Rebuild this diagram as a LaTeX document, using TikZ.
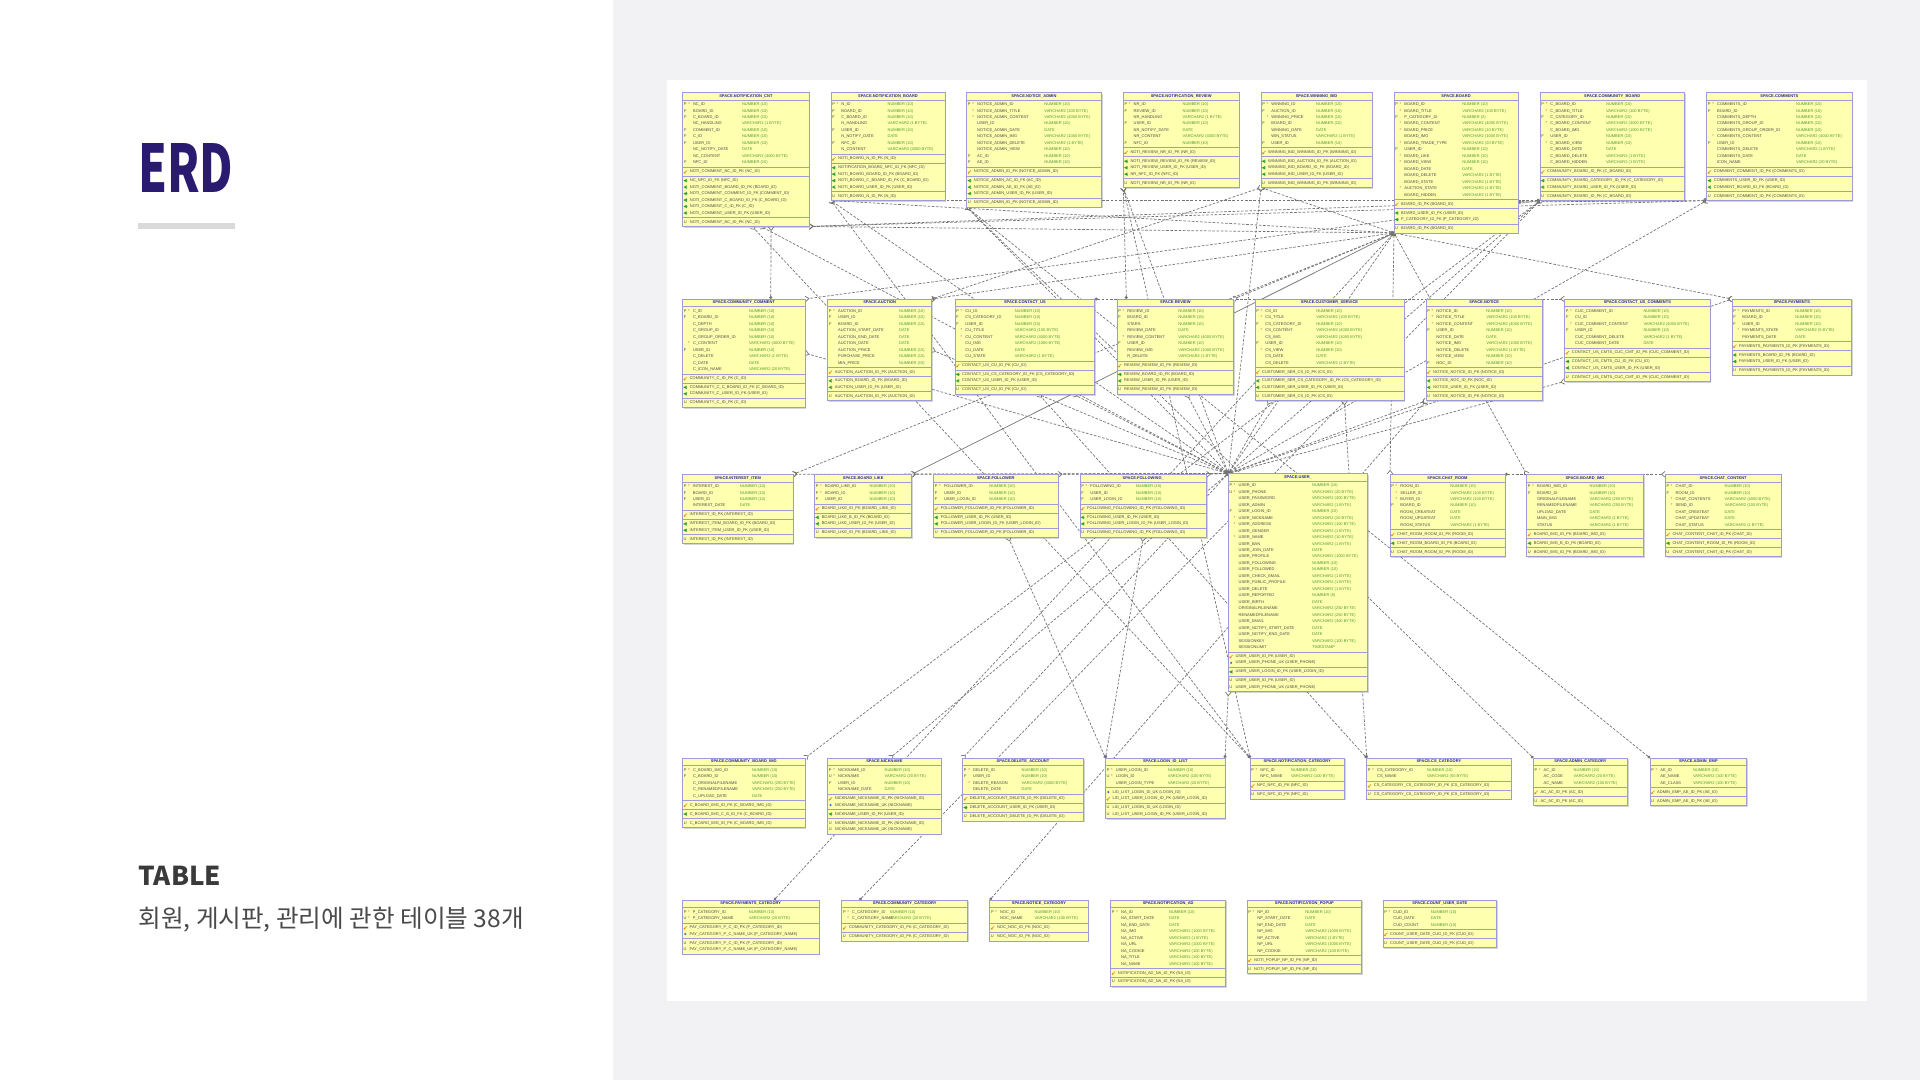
\documentclass[tikz,border=0pt]{standalone}
\usepackage{fontspec}
\setmainfont{Liberation Sans}
\newfontfamily\krfont{Noto Sans CJK KR}
\usepackage{graphicx}
\usetikzlibrary{arrows.meta,calc}
\pgfdeclarelayer{bg}
\pgfdeclarelayer{lines}
\pgfsetlayers{bg,lines,main}
\definecolor{tabfill}{HTML}{FFFFB0}
\definecolor{tabborder}{HTML}{9C9CD8}
\definecolor{titleblue}{HTML}{2424A8}
\definecolor{nametext}{HTML}{4A4A4A}
\definecolor{typegreen}{HTML}{4E9A2E}
\definecolor{starred}{HTML}{E03030}
\definecolor{keyorange}{HTML}{E8962A}
\definecolor{fkgreen}{HTML}{2E9E3E}
\definecolor{ukblue}{HTML}{2F6FD6}
\definecolor{relgray}{HTML}{747474}
\definecolor{rightbg}{HTML}{F2F2F4}
\definecolor{erdnavy}{HTML}{2A1A70}
\definecolor{bargray}{HTML}{DADADA}
\definecolor{tabletext}{HTML}{3A3A3A}
\definecolor{krtext}{HTML}{4A4A4A}
\definecolor{shadowgray}{HTML}{D4D4D4}
\tikzset{
  tabsec/.style={fill=tabfill,draw=tabborder,line width=0.35pt},
  ttl/.style={inner sep=0pt,font=\bfseries\fontsize{2}{2}\selectfont,text=titleblue,text height=1.45pt,text depth=0.35pt},
  cell/.style={inner sep=0pt,anchor=west,font=\fontsize{2}{2}\selectfont,text height=1.45pt,text depth=0.35pt},
  coltext/.style={cell,text=nametext},
  typetext/.style={cell,text=typegreen},
  flagtext/.style={cell,anchor=center,text=nametext},
  startext/.style={cell,anchor=center,text=starred},
  relline/.style={draw=relgray,line width=0.35pt,dash pattern=on 1.3pt off 0.8pt,
    {Circle[length=1.5pt]}-{Straight Barb[reversed,length=1.8pt,width=2.8pt]}},
}
\newcommand\erdrow{6.47}
\newcommand\erdpad{2.5}
\newcommand\erdtitle{7.7}
\newcommand\erdstart[6]{%
  \xdef\etid{#1}\xdef\etx{#2}\xdef\ety{#3}\xdef\etw{#4}\xdef\etoff{#5}%
  \filldraw[tabsec] (#2,#3) rectangle ++(#4,\erdtitle);
  \node[ttl] at (#2+#4/2,#3+\erdtitle/2) {#6};
  \xdef\etcur{\fpeval{#3+\erdtitle}}%
}
\newcommand\erdcols[1]{%
  \foreach[count=\ecnt] \eitem in {#1} {\xdef\etn{\ecnt}}%
  \pgfmathsetmacro\erdh{\etn*\erdrow+\erdpad}%
  \filldraw[tabsec] (\etx,\etcur) rectangle ++(\etw,\erdh);
  \foreach[count=\ecnt] \fflag/\fstar/\fname/\ftype in {#1} {%
    \pgfmathsetmacro\erdy{\etcur+\erdpad/2+(\ecnt-0.5)*\erdrow}%
    \if-\fflag\else\node[flagtext] at (\etx+2.6,\erdy) {\fflag};\fi
    \if-\fstar\else\node[startext] at (\etx+6.4,\erdy) {*};\fi
    \node[coltext] at (\etx+10,\erdy) {\fname};
    \node[typetext] at (\etx+\etoff,\erdy) {\ftype};
  }%
  \xdef\etcur{\fpeval{\etcur+\erdh}}%
}
\newcommand\erdiconk[2]{\draw[keyorange,line width=0.35pt] (#1+1.8,#2+1.2) -- (#1+4.4,#2-1.4); \fill[keyorange] (#1+1.9,#2+1.1) circle (1.1);}
\newcommand\erdiconf[2]{\draw[fkgreen,line width=0.35pt] (#1+4.2,#2-1.4) -- (#1+1.4,#2) -- (#1+4.2,#2+1.4) (#1+1.4,#2) -- (#1+4.6,#2);}
\newcommand\erdicond[2]{\fill[ukblue] (#1+2.8,#2) circle (1.2);}
\newcommand\erdiconu[2]{\node[flagtext] at (#1+2.6,#2) {U};}
\newcommand\erdkeys[1]{%
  \foreach[count=\ecnt] \eitem in {#1} {\xdef\etn{\ecnt}}%
  \pgfmathsetmacro\erdh{\etn*\erdrow+\erdpad}%
  \filldraw[tabsec] (\etx,\etcur) rectangle ++(\etw,\erdh);
  \foreach[count=\ecnt] \fic/\ftxt in {#1} {%
    \pgfmathsetmacro\erdy{\etcur+\erdpad/2+(\ecnt-0.5)*\erdrow}%
    \csname erdicon\fic\endcsname{\etx}{\erdy}%
    \node[coltext] at (\etx+6.8,\erdy) {\ftxt};
  }%
  \xdef\etcur{\fpeval{\etcur+\erdh}}%
}
\newcommand\erdend{%
  \pgfmathsetmacro\ewpt{\etw*0.5}%
  \pgfmathsetmacro\ehpt{(\etcur-\ety)*0.5}%
  \node[inner sep=0pt,outer sep=0pt,minimum width=\ewpt pt,minimum height=\ehpt pt,anchor=north west] (\etid) at (\etx,\ety) {};
  \begin{pgfonlayer}{lines}\fill[shadowgray] (\etx+1.3,\ety+1.3) rectangle (\etx+\etw+1.3,\etcur+1.3);\end{pgfonlayer}
}
\newcommand\erdrel[3][]{\draw[relline,#1] (#2) -- (#3);}
\begin{document}
\catcode`\_=12
\begin{tikzpicture}[x=0.5pt,y=-0.5pt]
\useasboundingbox (0,0) rectangle (1920,1080);
\begin{pgfonlayer}{bg}
\fill[white] (0,0) rectangle (1920,1080);
\fill[rightbg] (613,0) rectangle (1920,1080);
\fill[white] (667,80) rectangle (1867,1001);
\end{pgfonlayer}
% left panel
\node[anchor=north west,inner sep=0pt,text=erdnavy] (erd) at (138,143) {\resizebox{47.5pt}{24.5pt}{\krfont\bfseries ERD}};
\fill[bargray] (138,223) rectangle (235,229);
\node[anchor=base west,inner sep=0pt,text=tabletext,font=\krfont\bfseries\fontsize{13}{13}\selectfont] (tabttl) at (138,885) {TABLE};
\node[anchor=base west,inner sep=0pt,text=krtext,font=\krfont\fontsize{12.3}{12.3}\selectfont] (tabdesc) at (138,927) {회원, 게시판, 관리에 관한 테이블 38개};
% ---------------- row 1
\erdstart{cnt}{682.7}{92.3}{126.3}{59}{SPACE.NOTIFICATION_CNT}
\erdcols{P/*/NC_ID/NUMBER (10), F/-/BOARD_ID/NUMBER (10), F/-/C_BOARD_ID/NUMBER (10), -/-/NC_HANDLING/VARCHAR2 (1 BYTE), F/-/COMMENT_ID/NUMBER (10), F/-/C_ID/NUMBER (10), F/-/USER_ID/NUMBER (10), -/-/NC_NOTIFY_DATE/DATE, -/-/NC_CONTENT/VARCHAR2 (4000 BYTE), F/-/NFC_ID/NUMBER (10)}
\erdkeys{k/NOTI_COMMENT_NC_ID_PK (NC_ID)}
\erdkeys{f/NC_NFC_ID_FK (NFC_ID), f/NOTI_COMMENT_BOARD_ID_FK (BOARD_ID), f/NOTI_COMMENT_COMMENT_ID_FK (COMMENT_ID), f/NOTI_COMMENT_C_BOARD_ID_FK (C_BOARD_ID), f/NOTI_COMMENT_C_ID_FK (C_ID), f/NOTI_COMMENT_USER_ID_FK (USER_ID)}
\erdkeys{u/NOTI_COMMENT_NC_ID_PK (NC_ID)}
\erdend
\erdstart{nb}{831}{92.3}{114}{56.3}{SPACE.NOTIFICATION_BOARD}
\erdcols{P/*/N_ID/NUMBER (10), F/-/BOARD_ID/NUMBER (10), F/-/C_BOARD_ID/NUMBER (10), -/-/N_HANDLING/VARCHAR2 (1 BYTE), F/-/USER_ID/NUMBER (10), -/-/N_NOTIFY_DATE/DATE, F/-/NFC_ID/NUMBER (10), -/-/N_CONTENT/VARCHAR2 (4000 BYTE)}
\erdkeys{k/NOTI_BOARD_N_ID_PK (N_ID)}
\erdkeys{f/NOTIFICATION_BOARD_NFC_ID_FK (NFC_ID), f/NOTI_BOARD_BOARD_ID_FK (BOARD_ID), f/NOTI_BOARD_C_BOARD_ID_FK (C_BOARD_ID), f/NOTI_BOARD_USER_ID_FK (USER_ID)}
\erdkeys{u/NOTI_BOARD_N_ID_PK (N_ID)}
\erdend
\erdstart{na}{966.7}{92.3}{134.5}{77.3}{SPACE.NOTICE_ADMIN}
\erdcols{P/*/NOTICE_ADMIN_ID/NUMBER (10), -/*/NOTICE_ADMIN_TITLE/VARCHAR2 (100 BYTE), -/*/NOTICE_ADMIN_CONTENT/VARCHAR2 (4000 BYTE), -/-/USER_ID/NUMBER (10), -/-/NOTICE_ADMIN_DATE/DATE, -/-/NOTICE_ADMIN_IMG/VARCHAR2 (1000 BYTE), -/-/NOTICE_ADMIN_DELETE/VARCHAR2 (1 BYTE), -/-/NOTICE_ADMIN_VIEW/NUMBER (10), F/-/AC_ID/NUMBER (10), F/-/AE_ID/NUMBER (10)}
\erdkeys{k/NOTICE_ADMIN_ID_PK (NOTICE_ADMIN_ID)}
\erdkeys{f/NOTICE_ADMIN_AC_ID_FK (AC_ID), f/NOTICE_ADMIN_AE_ID_FK (AE_ID), f/NOTICE_ADMIN_USER_ID_FK (USER_ID)}
\erdkeys{u/NOTICE_ADMIN_ID_PK (NOTICE_ADMIN_ID)}
\erdend
\erdstart{nr}{1123.3}{92.3}{115.7}{59}{SPACE.NOTIFICATION_REVIEW}
\erdcols{P/*/NR_ID/NUMBER (10), F/-/REVIEW_ID/NUMBER (10), -/-/NR_HANDLING/VARCHAR2 (1 BYTE), F/-/USER_ID/NUMBER (10), -/-/NR_NOTIFY_DATE/DATE, -/-/NR_CONTENT/VARCHAR2 (4000 BYTE), F/-/NFC_ID/NUMBER (10)}
\erdkeys{k/NOTI_REVIEW_NR_ID_PK (NR_ID)}
\erdkeys{f/NOTI_REVIEW_REVIEW_ID_FK (REVIEW_ID), f/NOTI_REVIEW_USER_ID_FK (USER_ID), f/NR_NFC_ID_FK (NFC_ID)}
\erdkeys{u/NOTI_REVIEW_NR_ID_PK (NR_ID)}
\erdend
\erdstart{wb}{1261}{92.3}{111}{54.7}{SPACE.WINNING_BID}
\erdcols{P/*/WINNING_ID/NUMBER (10), F/-/AUCTION_ID/NUMBER (10), -/*/WINNING_PRICE/NUMBER (10), F/-/BOARD_ID/NUMBER (10), -/-/WINNING_DATE/DATE, -/-/WIN_STATUS/VARCHAR2 (1 BYTE), F/-/USER_ID/NUMBER (10)}
\erdkeys{k/WINNING_BID_WINNING_ID_PK (WINNING_ID)}
\erdkeys{f/WINNING_BID_AUCTION_ID_FK (AUCTION_ID), f/WINNING_BID_BOARD_ID_FK (BOARD_ID), f/WINNING_BID_USER_ID_FK (USER_ID)}
\erdkeys{u/WINNING_BID_WINNING_ID_PK (WINNING_ID)}
\erdend
\erdstart{board}{1394}{92.3}{124}{68}{SPACE.BOARD}
\erdcols{P/*/BOARD_ID/NUMBER (10), -/*/BOARD_TITLE/VARCHAR2 (100 BYTE), F/-/P_CATEGORY_ID/NUMBER (2), -/*/BOARD_CONTENT/VARCHAR2 (4000 BYTE), -/*/BOARD_PRICE/VARCHAR2 (10 BYTE), -/-/BOARD_IMG/VARCHAR2 (1000 BYTE), -/*/BOARD_TRADE_TYPE/VARCHAR2 (20 BYTE), F/-/USER_ID/NUMBER (10), -/*/BOARD_LIKE/NUMBER (10), -/*/BOARD_VIEW/NUMBER (10), -/-/BOARD_DATE/DATE, -/-/BOARD_DELETE/VARCHAR2 (1 BYTE), -/-/BOARD_STATE/VARCHAR2 (1 BYTE), -/*/AUCTION_STATE/VARCHAR2 (1 BYTE), -/-/BOARD_HIDDEN/VARCHAR2 (1 BYTE)}
\erdkeys{k/BOARD_ID_PK (BOARD_ID)}
\erdkeys{f/BOARD_USER_ID_FK (USER_ID), f/P_CATEGORY_ID_FK (P_CATEGORY_ID)}
\erdkeys{u/BOARD_ID_PK (BOARD_ID)}
\erdend
\erdstart{cb}{1540}{92.3}{144.3}{65.7}{SPACE.COMMUNITY_BOARD}
\erdcols{P/*/C_BOARD_ID/NUMBER (10), -/*/C_BOARD_TITLE/VARCHAR2 (100 BYTE), F/-/C_CATEGORY_ID/NUMBER (10), -/*/C_BOARD_CONTENT/VARCHAR2 (4000 BYTE), -/-/C_BOARD_IMG/VARCHAR2 (1000 BYTE), F/-/USER_ID/NUMBER (10), -/*/C_BOARD_VIEW/NUMBER (10), -/-/C_BOARD_DATE/DATE, -/-/C_BOARD_DELETE/VARCHAR2 (1 BYTE), -/-/C_BOARD_HIDDEN/VARCHAR2 (1 BYTE)}
\erdkeys{k/COMMUNITY_BOARD_ID_PK (C_BOARD_ID)}
\erdkeys{f/COMMUNITY_BOARD_CATEGORY_ID_FK (C_CATEGORY_ID), f/COMMUNITY_BOARD_USER_ID_FK (USER_ID)}
\erdkeys{u/COMMUNITY_BOARD_ID_PK (C_BOARD_ID)}
\erdend
\erdstart{comments}{1706.7}{92.3}{145.3}{89}{SPACE.COMMENTS}
\erdcols{P/*/COMMENTS_ID/NUMBER (10), F/-/BOARD_ID/NUMBER (10), -/-/COMMENTS_DEPTH/NUMBER (10), -/-/COMMENTS_GROUP_ID/NUMBER (10), -/-/COMMENTS_GROUP_ORDER_ID/NUMBER (10), -/*/COMMENTS_CONTENT/VARCHAR2 (4000 BYTE), F/-/USER_ID/NUMBER (10), -/-/COMMENTS_DELETE/VARCHAR2 (1 BYTE), -/-/COMMENTS_DATE/DATE, -/-/ICON_NAME/VARCHAR2 (20 BYTE)}
\erdkeys{k/COMMENT_COMMENT_ID_PK (COMMENTS_ID)}
\erdkeys{f/COMMENTS_USER_ID_FK (USER_ID), f/COMMENT_BOARD_ID_FK (BOARD_ID)}
\erdkeys{u/COMMENT_COMMENT_ID_PK (COMMENTS_ID)}
\erdend
% ---------------- row 2
\erdstart{cc}{682.6}{299}{122.4}{66}{SPACE.COMMUNITY_COMMENT}
\erdcols{P/*/C_ID/NUMBER (10), F/-/C_BOARD_ID/NUMBER (10), -/-/C_DEPTH/NUMBER (10), -/-/C_GROUP_ID/NUMBER (10), -/-/C_GROUP_ORDER_ID/NUMBER (10), -/*/C_CONTENT/VARCHAR2 (4000 BYTE), F/-/USER_ID/NUMBER (10), -/-/C_DELETE/VARCHAR2 (1 BYTE), -/-/C_DATE/DATE, -/-/C_ICON_NAME/VARCHAR2 (20 BYTE)}
\erdkeys{k/COMMUNITY_C_ID_PK (C_ID)}
\erdkeys{f/COMMUNITY_C_C_BOARD_ID_FK (C_BOARD_ID), f/COMMUNITY_C_USER_ID_FK (USER_ID)}
\erdkeys{u/COMMUNITY_C_ID_PK (C_ID)}
\erdend
\erdstart{auction}{827.7}{299}{104}{71}{SPACE.AUCTION}
\erdcols{P/*/AUCTION_ID/NUMBER (10), F/-/USER_ID/NUMBER (10), F/-/BOARD_ID/NUMBER (10), -/-/AUCTION_START_DATE/DATE, -/-/AUCTION_END_DATE/DATE, -/-/AUCTION_DATE/DATE, -/-/AUCTION_PRICE/NUMBER (10), -/-/PURCHASE_PRICE/NUMBER (10), -/-/MIN_PRICE/NUMBER (10)}
\erdkeys{k/AUCTION_AUCTION_ID_PK (AUCTION_ID)}
\erdkeys{f/AUCTION_BOARD_ID_FK (BOARD_ID), f/AUCTION_USER_ID_FK (USER_ID)}
\erdkeys{u/AUCTION_AUCTION_ID_PK (AUCTION_ID)}
\erdend
\erdstart{cu}{955}{299}{139.7}{59.4}{SPACE.CONTACT_US}
\erdcols{P/*/CU_ID/NUMBER (10), F/-/CS_CATEGORY_ID/NUMBER (10), F/-/USER_ID/NUMBER (10), -/*/CU_TITLE/VARCHAR2 (100 BYTE), -/*/CU_CONTENT/VARCHAR2 (4000 BYTE), -/-/CU_IMG/VARCHAR2 (1000 BYTE), -/-/CU_DATE/DATE, -/-/CU_STATE/VARCHAR2 (1 BYTE)}
\erdkeys{k/CONTACT_US_CU_ID_PK (CU_ID)}
\erdkeys{f/CONTACT_US_CS_CATEGORY_ID_FK (CS_CATEGORY_ID), f/CONTACT_US_USER_ID_FK (USER_ID)}
\erdkeys{u/CONTACT_US_CU_ID_PK (CU_ID)}
\erdend
\erdstart{review}{1117}{299}{116.7}{61}{SPACE.REVIEW}
\erdcols{P/*/REVIEW_ID/NUMBER (10), F/-/BOARD_ID/NUMBER (10), -/-/STARS/NUMBER (10), -/-/REVIEW_DATE/DATE, -/*/REVIEW_CONTENT/VARCHAR2 (4000 BYTE), F/-/USER_ID/NUMBER (10), -/-/REVIEW_IMG/VARCHAR2 (1000 BYTE), -/-/R_DELETE/VARCHAR2 (1 BYTE)}
\erdkeys{k/REVIEW_REVIEW_ID_PK (REVIEW_ID)}
\erdkeys{f/REVIEW_BOARD_ID_FK (BOARD_ID), f/REVIEW_USER_ID_FK (USER_ID)}
\erdkeys{u/REVIEW_REVIEW_ID_PK (REVIEW_ID)}
\erdend
\erdstart{cs}{1255}{299}{149}{61}{SPACE.CUSTOMER_SERVICE}
\erdcols{P/*/CS_ID/NUMBER (10), -/*/CS_TITLE/VARCHAR2 (100 BYTE), F/-/CS_CATEGORY_ID/NUMBER (10), -/*/CS_CONTENT/VARCHAR2 (4000 BYTE), -/-/CS_IMG/VARCHAR2 (1000 BYTE), F/-/USER_ID/NUMBER (10), -/*/CS_VIEW/NUMBER (10), -/-/CS_DATE/DATE, -/-/CS_DELETE/VARCHAR2 (1 BYTE)}
\erdkeys{k/CUSTOMER_SER_CS_ID_PK (CS_ID)}
\erdkeys{f/CUSTOMER_SER_CS_CATEGORY_ID_FK (CS_CATEGORY_ID), f/CUSTOMER_SER_USER_ID_FK (USER_ID)}
\erdkeys{u/CUSTOMER_SER_CS_ID_PK (CS_ID)}
\erdend
\erdstart{notice}{1426}{299}{116.5}{60}{SPACE.NOTICE}
\erdcols{P/*/NOTICE_ID/NUMBER (10), -/*/NOTICE_TITLE/VARCHAR2 (100 BYTE), -/*/NOTICE_CONTENT/VARCHAR2 (4000 BYTE), F/-/USER_ID/NUMBER (10), -/-/NOTICE_DATE/DATE, -/-/NOTICE_IMG/VARCHAR2 (1000 BYTE), -/-/NOTICE_DELETE/VARCHAR2 (1 BYTE), -/-/NOTICE_VIEW/NUMBER (10), F/-/NOC_ID/NUMBER (10)}
\erdkeys{k/NOTICE_NOTICE_ID_PK (NOTICE_ID)}
\erdkeys{f/NOTICE_NOC_ID_FK (NOC_ID), f/NOTICE_USER_ID_FK (USER_ID)}
\erdkeys{u/NOTICE_NOTICE_ID_PK (NOTICE_ID)}
\erdend
\erdstart{cuc}{1564.7}{299}{145.3}{78.4}{SPACE.CONTACT_US_COMMENTS}
\erdcols{P/*/CUC_COMMENT_ID/NUMBER (10), F/-/CU_ID/NUMBER (10), -/*/CUC_COMMENT_CONTENT/VARCHAR2 (4000 BYTE), F/-/USER_ID/NUMBER (10), -/-/CUC_COMMENT_DELETE/VARCHAR2 (1 BYTE), -/-/CUC_COMMENT_DATE/DATE}
\erdkeys{k/CONTACT_US_CMTS_CUC_CMT_ID_PK (CUC_COMMENT_ID)}
\erdkeys{f/CONTACT_US_CMTS_CU_ID_FK (CU_ID), f/CONTACT_US_CMTS_USER_ID_FK (USER_ID)}
\erdkeys{u/CONTACT_US_CMTS_CUC_CMT_ID_PK (CUC_COMMENT_ID)}
\erdend
\erdstart{payments}{1732}{299}{119.7}{63}{SPACE.PAYMENTS}
\erdcols{P/*/PAYMENTS_ID/NUMBER (10), F/-/BOARD_ID/NUMBER (10), F/-/USER_ID/NUMBER (10), -/*/PAYMENTS_STATE/VARCHAR2 (5 BYTE), -/-/PAYMENTS_DATE/DATE}
\erdkeys{k/PAYMENTS_PAYMENTS_ID_PK (PAYMENTS_ID)}
\erdkeys{f/PAYMENTS_BOARD_ID_FK (BOARD_ID), f/PAYMENTS_USER_ID_FK (USER_ID)}
\erdkeys{u/PAYMENTS_PAYMENTS_ID_PK (PAYMENTS_ID)}
\erdend
% ---------------- row 3
\erdstart{interest}{682.5}{474.3}{110.5}{57}{SPACE.INTEREST_ITEM}
\erdcols{P/*/INTEREST_ID/NUMBER (10), F/-/BOARD_ID/NUMBER (10), F/-/USER_ID/NUMBER (10), -/-/INTEREST_DATE/DATE}
\erdkeys{k/INTEREST_ID_PK (INTEREST_ID)}
\erdkeys{f/INTEREST_ITEM_BOARD_ID_FK (BOARD_ID), f/INTEREST_ITEM_USER_ID_FK (USER_ID)}
\erdkeys{u/INTEREST_ID_PK (INTEREST_ID)}
\erdend
\erdstart{blike}{814.6}{474.3}{97.2}{54.7}{SPACE.BOARD_LIKE}
\erdcols{P/*/BOARD_LIKE_ID/NUMBER (10), F/*/BOARD_ID/NUMBER (10), F/-/USER_ID/NUMBER (10)}
\erdkeys{k/BOARD_LIKE_ID_PK (BOARD_LIKE_ID)}
\erdkeys{f/BOARD_LIKE_B_ID_FK (BOARD_ID), f/BOARD_LIKE_USER_ID_FK (USER_ID)}
\erdkeys{u/BOARD_LIKE_ID_PK (BOARD_LIKE_ID)}
\erdend
\erdstart{follower}{933.6}{474.3}{124.4}{55.4}{SPACE.FOLLOWER}
\erdcols{P/*/FOLLOWER_ID/NUMBER (10), F/-/USER_ID/NUMBER (10), F/-/USER_LOGIN_ID/NUMBER (10)}
\erdkeys{k/FOLLOWER_FOLLOWER_ID_PK (FOLLOWER_ID)}
\erdkeys{f/FOLLOWER_USER_ID_FK (USER_ID), f/FOLLOWER_USER_LOGIN_ID_FK (USER_LOGIN_ID)}
\erdkeys{u/FOLLOWER_FOLLOWER_ID_PK (FOLLOWER_ID)}
\erdend
\erdstart{following}{1080}{474.3}{126.4}{55.4}{SPACE.FOLLOWING_}
\erdcols{P/*/FOLLOWING_ID/NUMBER (10), F/-/USER_ID/NUMBER (10), F/-/USER_LOGIN_ID/NUMBER (10)}
\erdkeys{k/FOLLOWING_FOLLOWING_ID_PK (FOLLOWING_ID)}
\erdkeys{f/FOLLOWING_USER_ID_FK (USER_ID), f/FOLLOWING_USER_LOGIN_ID_FK (USER_LOGIN_ID)}
\erdkeys{u/FOLLOWING_FOLLOWING_ID_PK (FOLLOWING_ID)}
\erdend
\erdstart{user}{1228.3}{473.5}{139.4}{83.4}{SPACE.USER_}
\erdcols{P/*/USER_ID/NUMBER (10), U/*/USER_PHONE/VARCHAR2 (20 BYTE), -/-/USER_PASSWORD/VARCHAR2 (300 BYTE), -/-/USER_ADMIN/VARCHAR2 (1 BYTE), F/-/USER_LOGIN_ID/NUMBER (10), -/*/USER_NICKNAME/VARCHAR2 (20 BYTE), -/*/USER_ADDRESS/VARCHAR2 (100 BYTE), -/-/USER_GENDER/VARCHAR2 (1 BYTE), -/*/USER_NAME/VARCHAR2 (10 BYTE), -/-/USER_BAN/VARCHAR2 (1 BYTE), -/-/USER_JOIN_DATE/DATE, -/-/USER_PROFILE/VARCHAR2 (1000 BYTE), -/-/USER_FOLLOWING/NUMBER (10), -/-/USER_FOLLOWED/NUMBER (10), -/-/USER_CHECK_EMAIL/VARCHAR2 (1 BYTE), -/-/USER_PUBLIC_PROFILE/VARCHAR2 (1 BYTE), -/-/USER_DELETE/VARCHAR2 (1 BYTE), -/-/USER_REPORTED/NUMBER (5), -/-/USER_BIRTH/DATE, -/-/ORIGINALFILENAME/VARCHAR2 (250 BYTE), -/-/RENAMEDFILENAME/VARCHAR2 (250 BYTE), -/-/USER_EMAIL/VARCHAR2 (300 BYTE), -/-/USER_NOTIFY_START_DATE/DATE, -/-/USER_NOTIFY_END_DATE/DATE, -/-/SESSIONKEY/VARCHAR2 (100 BYTE), -/-/SESSIONLIMIT/TIMESTAMP}
\erdkeys{k/USER_USER_ID_PK (USER_ID), d/USER_USER_PHONE_UK (USER_PHONE)}
\erdkeys{f/USER_USER_LOGIN_ID_FK (USER_LOGIN_ID)}
\erdkeys{u/USER_USER_ID_PK (USER_ID), u/USER_USER_PHONE_UK (USER_PHONE)}
\erdend
\erdstart{chatroom}{1390}{474.3}{115}{60}{SPACE.CHAT_ROOM}
\erdcols{P/*/ROOM_ID/NUMBER (10), -/*/SELLER_ID/VARCHAR2 (100 BYTE), -/*/BUYER_ID/VARCHAR2 (100 BYTE), F/-/BOARD_ID/NUMBER (10), -/-/ROOM_CREATEAT/DATE, -/-/ROOM_UPDATEAT/DATE, -/-/ROOM_STATUS/VARCHAR2 (1 BYTE)}
\erdkeys{k/CHAT_ROOM_ROOM_ID_PK (ROOM_ID)}
\erdkeys{f/CHAT_ROOM_BOARD_ID_FK (BOARD_ID)}
\erdkeys{u/CHAT_ROOM_ROOM_ID_PK (ROOM_ID)}
\erdend
\erdstart{boardimg}{1526.7}{474.3}{116.6}{62.6}{SPACE.BOARD_IMG}
\erdcols{P/*/BOARD_IMG_ID/NUMBER (10), F/-/BOARD_ID/NUMBER (10), -/-/ORIGINALFILENAME/VARCHAR2 (250 BYTE), -/-/RENAMEDFILENAME/VARCHAR2 (250 BYTE), -/-/UPLOAD_DATE/DATE, -/-/MAIN_IMG/VARCHAR2 (1 BYTE), -/-/STATUS/VARCHAR2 (1 BYTE)}
\erdkeys{k/BOARD_IMG_ID_PK (BOARD_IMG_ID)}
\erdkeys{f/BOARD_IMG_B_ID_FK (BOARD_ID)}
\erdkeys{u/BOARD_IMG_ID_PK (BOARD_IMG_ID)}
\erdend
\erdstart{chatcontent}{1665.3}{474.3}{115.7}{59}{SPACE.CHAT_CONTENT}
\erdcols{P/*/CHAT_ID/NUMBER (10), F/-/ROOM_ID/NUMBER (10), -/*/CHAT_CONTENTS/VARCHAR2 (4000 BYTE), -/*/SEND_ID/VARCHAR2 (100 BYTE), -/-/CHAT_CREATEAT/DATE, -/-/CHAT_UPDATEAT/DATE, -/-/CHAT_STATUS/VARCHAR2 (1 BYTE)}
\erdkeys{k/CHAT_CONTENT_CHAT_ID_PK (CHAT_ID)}
\erdkeys{f/CHAT_CONTENT_ROOM_ID_FK (ROOM_ID)}
\erdkeys{u/CHAT_CONTENT_CHAT_ID_PK (CHAT_ID)}
\erdend
% ---------------- row 4
\erdstart{cbimg}{682.6}{758}{122.4}{69}{SPACE.COMMUNITY_BOARD_IMG}
\erdcols{P/*/C_BOARD_IMG_ID/NUMBER (10), F/-/C_BOARD_ID/NUMBER (10), -/-/C_ORIGINALFILENAME/VARCHAR2 (250 BYTE), -/-/C_RENAMEDFILENAME/VARCHAR2 (250 BYTE), -/-/C_UPLOAD_DATE/DATE}
\erdkeys{k/C_BOARD_IMG_ID_PK (C_BOARD_IMG_ID)}
\erdkeys{f/C_BOARD_IMG_C_B_ID_FK (C_BOARD_ID)}
\erdkeys{u/C_BOARD_IMG_ID_PK (C_BOARD_IMG_ID)}
\erdend
\erdstart{nickname}{827.7}{758}{113.3}{56.6}{SPACE.NICKNAME}
\erdcols{P/*/NICKNAME_ID/NUMBER (10), U/*/NICKNAME/VARCHAR2 (20 BYTE), F/-/USER_ID/NUMBER (10), -/-/NICKNAME_DATE/DATE}
\erdkeys{k/NICKNAME_NICKNAME_ID_PK (NICKNAME_ID), d/NICKNAME_NICKNAME_UK (NICKNAME)}
\erdkeys{f/NICKNAME_USER_ID_FK (USER_ID)}
\erdkeys{u/NICKNAME_NICKNAME_ID_PK (NICKNAME_ID), u/NICKNAME_NICKNAME_UK (NICKNAME)}
\erdend
\erdstart{delacc}{962.7}{758}{120.6}{58.6}{SPACE.DELETE_ACCOUNT}
\erdcols{P/*/DELETE_ID/NUMBER (10), F/-/USER_ID/NUMBER (10), -/*/DELETE_REASON/VARCHAR2 (4000 BYTE), -/-/DELETE_DATE/DATE}
\erdkeys{k/DELETE_ACCOUNT_DELETE_ID_PK (DELETE_ID)}
\erdkeys{f/DELETE_ACCOUNT_USER_ID_FK (USER_ID)}
\erdkeys{u/DELETE_ACCOUNT_DELETE_ID_PK (DELETE_ID)}
\erdend
\erdstart{loginlist}{1105.5}{758}{119.5}{62}{SPACE.LOGIN_ID_LIST}
\erdcols{P/*/USER_LOGIN_ID/NUMBER (10), U/*/LOGIN_ID/VARCHAR2 (100 BYTE), -/-/USER_LOGIN_TYPE/VARCHAR2 (20 BYTE)}
\erdkeys{d/LID_LIST_LOGIN_ID_UK (LOGIN_ID), k/LID_LIST_USER_LOGIN_ID_PK (USER_LOGIN_ID)}
\erdkeys{u/LID_LIST_LOGIN_ID_UK (LOGIN_ID), u/LID_LIST_USER_LOGIN_ID_PK (USER_LOGIN_ID)}
\erdend
\erdstart{nfc}{1250}{758}{94.5}{40.7}{SPACE.NOTIFICATION_CATEGORY}
\erdcols{P/*/NFC_ID/NUMBER (10), -/-/NFC_NAME/VARCHAR2 (100 BYTE)}
\erdkeys{k/NFC_NFC_ID_PK (NFC_ID)}
\erdkeys{u/NFC_NFC_ID_PK (NFC_ID)}
\erdend
\erdstart{cscat}{1366.7}{758}{144.3}{60}{SPACE.CS_CATEGORY}
\erdcols{P/*/CS_CATEGORY_ID/NUMBER (10), -/-/CS_NAME/VARCHAR2 (50 BYTE)}
\erdkeys{k/CS_CATEGORY_CS_CATEGORY_ID_PK (CS_CATEGORY_ID)}
\erdkeys{u/CS_CATEGORY_CS_CATEGORY_ID_PK (CS_CATEGORY_ID)}
\erdend
\erdstart{admincat}{1533.3}{758}{94.4}{40}{SPACE.ADMIN_CATEGORY}
\erdcols{P/*/AC_ID/NUMBER (10), -/-/AC_CODE/VARCHAR2 (20 BYTE), -/-/AC_NAME/VARCHAR2 (100 BYTE)}
\erdkeys{k/AC_AC_ID_PK (AC_ID)}
\erdkeys{u/AC_AC_ID_PK (AC_ID)}
\erdend
\erdstart{adminemp}{1650}{758}{96.7}{42.7}{SPACE.ADMIN_EMP}
\erdcols{P/*/AE_ID/NUMBER (10), -/-/AE_NAME/VARCHAR2 (100 BYTE), -/-/AE_CLASS/VARCHAR2 (100 BYTE)}
\erdkeys{k/ADMIN_EMP_AE_ID_PK (AE_ID)}
\erdkeys{u/ADMIN_EMP_AE_ID_PK (AE_ID)}
\erdend
% ---------------- row 5
\erdstart{paycat}{682.5}{900}{136.5}{66}{SPACE.PAYMENTS_CATEGORY}
\erdcols{P/*/P_CATEGORY_ID/NUMBER (10), U/*/P_CATEGORY_NAME/VARCHAR2 (20 BYTE)}
\erdkeys{k/PAY_CATEGORY_P_C_ID_PK (P_CATEGORY_ID), d/PAY_CATEGORY_P_C_NAME_UK (P_CATEGORY_NAME)}
\erdkeys{u/PAY_CATEGORY_P_C_ID_PK (P_CATEGORY_ID), u/PAY_CATEGORY_P_C_NAME_UK (P_CATEGORY_NAME)}
\erdend
\erdstart{ccat}{841.8}{900}{125.8}{47.7}{SPACE.COMMUNITY_CATEGORY}
\erdcols{P/*/C_CATEGORY_ID/NUMBER (10), -/*/C_CATEGORY_NAME/VARCHAR2 (20 BYTE)}
\erdkeys{k/COMMUNITY_CATEGORY_ID_PK (C_CATEGORY_ID)}
\erdkeys{u/COMMUNITY_CATEGORY_ID_PK (C_CATEGORY_ID)}
\erdend
\erdstart{noc}{989.8}{900}{98.2}{44.4}{SPACE.NOTICE_CATEGORY}
\erdcols{P/*/NOC_ID/NUMBER (10), -/-/NOC_NAME/VARCHAR2 (100 BYTE)}
\erdkeys{k/NOC_NOC_ID_PK (NOC_ID)}
\erdkeys{u/NOC_NOC_ID_PK (NOC_ID)}
\erdend
\erdstart{nad}{1110.7}{900}{114.9}{58}{SPACE.NOTIFICATION_AD}
\erdcols{P/*/NA_ID/NUMBER (10), -/-/NA_START_DATE/DATE, -/-/NA_END_DATE/DATE, -/-/NA_IMG/VARCHAR2 (1000 BYTE), -/-/NA_ACTIVE/VARCHAR2 (1 BYTE), -/-/NA_URL/VARCHAR2 (1000 BYTE), -/-/NA_COOKIE/VARCHAR2 (100 BYTE), -/-/NA_TITLE/VARCHAR2 (100 BYTE), -/-/NA_NAME/VARCHAR2 (100 BYTE)}
\erdkeys{k/NOTIFICATION_AD_NA_ID_PK (NA_ID)}
\erdkeys{u/NOTIFICATION_AD_NA_ID_PK (NA_ID)}
\erdend
\erdstart{npop}{1247}{900}{114.6}{58}{SPACE.NOTIFICATION_POPUP}
\erdcols{P/*/NP_ID/NUMBER (10), -/-/NP_START_DATE/DATE, -/-/NP_END_DATE/DATE, -/-/NP_IMG/VARCHAR2 (1000 BYTE), -/-/NP_ACTIVE/VARCHAR2 (1 BYTE), -/-/NP_URL/VARCHAR2 (1000 BYTE), -/-/NP_COOKIE/VARCHAR2 (100 BYTE)}
\erdkeys{k/NOTI_POPUP_NP_ID_PK (NP_ID)}
\erdkeys{u/NOTI_POPUP_NP_ID_PK (NP_ID)}
\erdend
\erdstart{cud}{1383}{900}{113.6}{47.4}{SPACE.COUNT_USER_DATE}
\erdcols{P/*/CUD_ID/NUMBER (10), -/-/CUD_DATE/DATE, -/-/CUD_COUNT/NUMBER (10)}
\erdkeys{k/COUNT_USER_DATE_CUD_ID_PK (CUD_ID)}
\erdkeys{u/COUNT_USER_DATE_CUD_ID_PK (CUD_ID)}
\erdend
% ---------------- relationships
\begin{pgfonlayer}{lines}
\erdrel{nfc.north west}{$(cnt.south west)!0.55!(cnt.south east)$}
\erdrel{board.south west}{cnt.south east}
\erdrel{comments.south west}{cnt.south east}
\erdrel{cb.south west}{cnt.south east}
\erdrel{$(cc.north west)!0.72!(cc.north east)$}{$(cnt.south west)!0.7!(cnt.south east)$}
\erdrel{user.north west}{$(cnt.south west)!0.62!(cnt.south east)$}
\erdrel{nfc.north west}{nb.south west}
\erdrel{board.south west}{nb.south west}
\erdrel{cb.south west}{nb.south west}
\erdrel{user.north west}{nb.south west}
\erdrel{admincat.north west}{na.south west}
\erdrel{adminemp.north west}{na.south west}
\erdrel{user.north west}{na.south west}
\erdrel{$(review.north west)!0.08!(review.north east)$}{nr.south west}
\erdrel{user.north west}{nr.south west}
\erdrel{nfc.north west}{nr.south west}
\erdrel{auction.north east}{wb.south west}
\erdrel{board.south west}{wb.south west}
\erdrel{user.north west}{wb.south west}
\erdrel{user.north west}{board.south west}
\erdrel{$(paycat.north west)!0.67!(paycat.north east)$}{board.south west}
\erdrel{$(ccat.north west)!0.14!(ccat.north east)$}{cb.south west}
\erdrel{user.north west}{cb.south west}
\erdrel{user.north west}{comments.south west}
\erdrel{$(board.north east)!0.78!(board.south east)$}{comments.south west}
\erdrel{cb.south west}{cc.north east}
\erdrel{user.north west}{cc.east}
\erdrel{board.south west}{auction.north east}
\erdrel{user.north west}{auction.east}
\erdrel{cscat.north west}{$(cu.south west)!0.6!(cu.south east)$}
\erdrel{user.north west}{$(cu.south west)!0.85!(cu.south east)$}
\erdrel{board.south west}{review.north east}
\erdrel{user.north west}{$(review.south west)!0.6!(review.south east)$}
\erdrel{cscat.north west}{$(cs.south west)!0.6!(cs.south east)$}
\erdrel{user.north west}{$(cs.south west)!0.1!(cs.south east)$}
\erdrel{noc.north west}{notice.south west}
\erdrel{user.north west}{notice.south west}
\erdrel{cu.north east}{cuc.north west}
\erdrel{user.north west}{cuc.south west}
\erdrel{board.south west}{payments.north west}
\erdrel{user.north west}{payments.north west}
\erdrel{board.south west}{interest.north east}
\erdrel{user.north west}{interest.north east}
\erdrel[solid]{board.south west}{blike.north east}
\erdrel{user.north west}{blike.north east}
\erdrel{user.north west}{follower.north east}
\erdrel{loginlist.north west}{$(follower.south west)!0.6!(follower.south east)$}
\erdrel{user.north west}{following.north east}
\erdrel{loginlist.north west}{$(following.south west)!0.5!(following.south east)$}
\erdrel{loginlist.north east}{user.south west}
\erdrel{board.south west}{chatroom.north west}
\erdrel{board.south west}{boardimg.north west}
\erdrel{chatroom.north east}{chatcontent.north west}
\erdrel{cb.south west}{cbimg.north east}
\erdrel{user.north west}{$(nickname.north west)!0.55!(nickname.north east)$}
\erdrel{user.north west}{delacc.north west}
\end{pgfonlayer}
\end{tikzpicture}
\end{document}
